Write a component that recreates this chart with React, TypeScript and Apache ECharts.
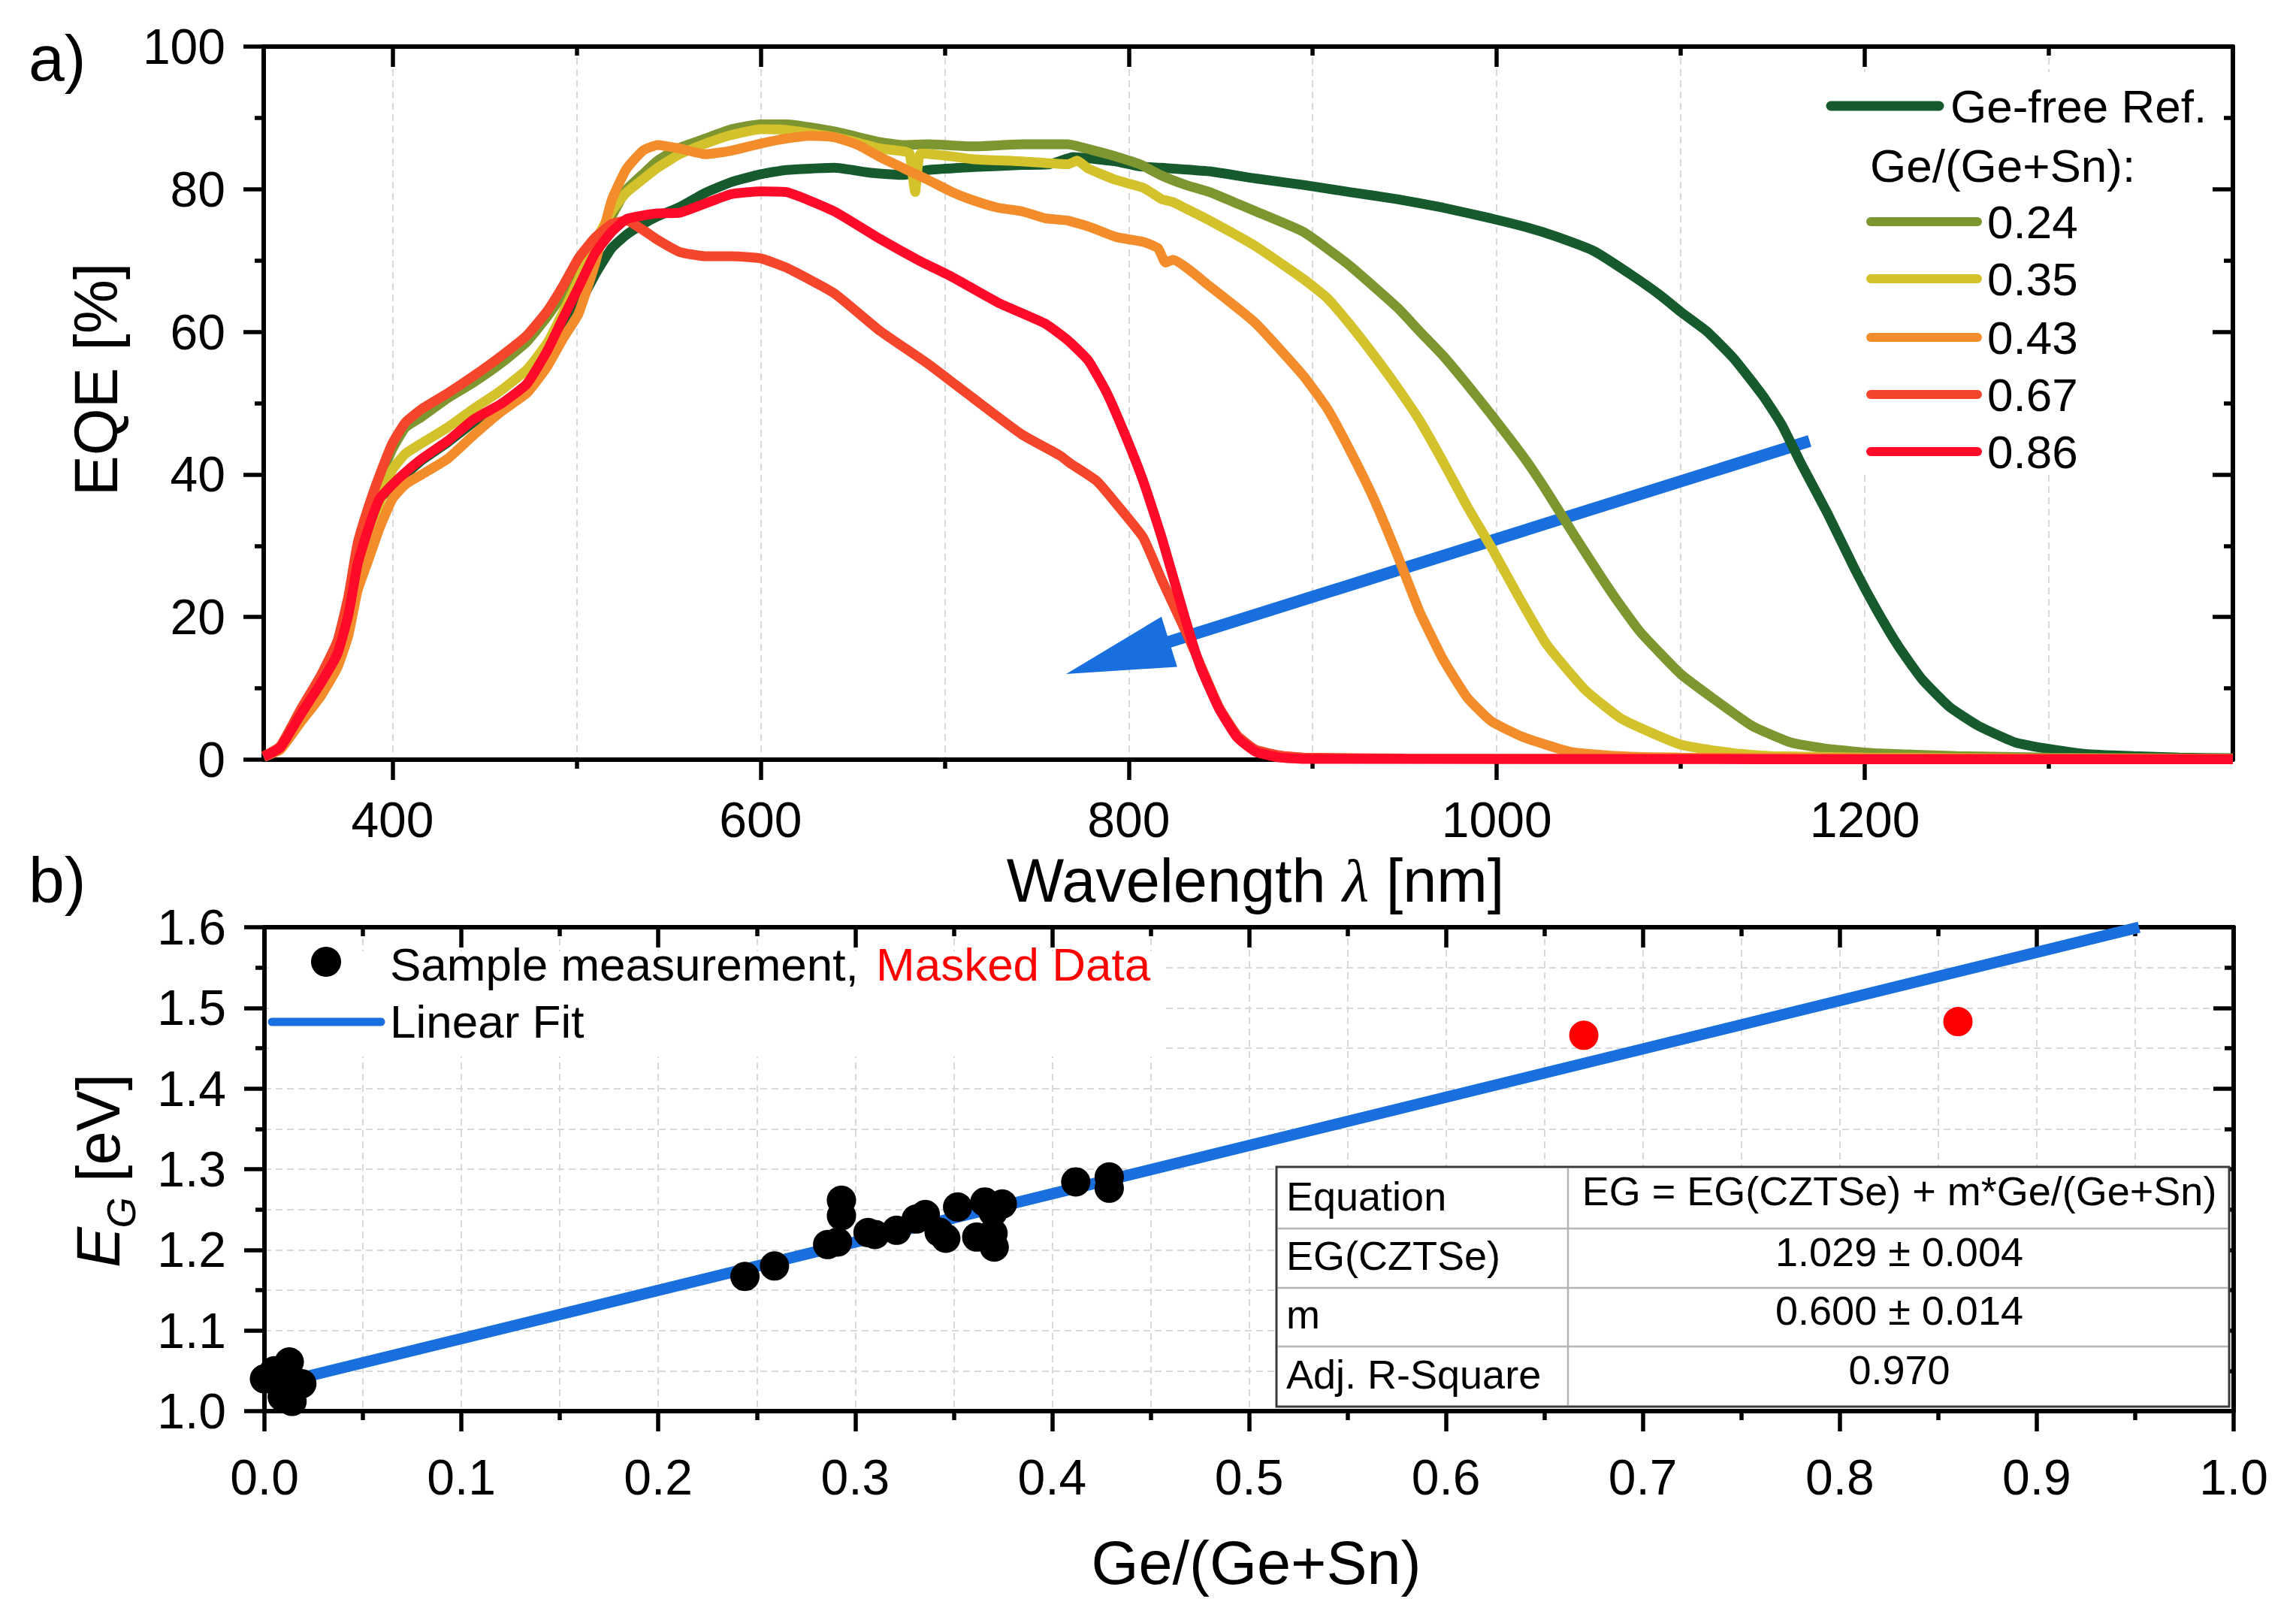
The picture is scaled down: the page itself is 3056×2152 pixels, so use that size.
import React, { useEffect, useRef } from 'react';
import * as echarts from 'echarts';

const FONT = '"Liberation Sans", Arial, Helvetica, sans-serif';

// ---------- panel a) EQE spectra: [wavelength nm, EQE %] ----------
const eqeRef = [[330,0.4],[339,1.7],[350,6.2],[361,10.6],[370,14.7],[376,20.2],[381,27.2],[387,32.3],[393,36.4],[400,38.6],[407,40.0],[416,42.0],[430,44.5],[444,47.3],[459,49.7],[473,52.1],[484,56.2],[493,60.3],[501,63.6],[510,68.0],[519,71.7],[527,73.6],[536,75.1],[544,76.2],[556,77.5],[570,79.5],[584,81.0],[600,82.1],[614,82.7],[640,83.0],[660,82.3],[678,82.0],[691,82.7],[716,83.1],[742,83.4],[757,83.5],[770,84.5],[783,84.2],[793,83.9],[806,83.2],[818,83.0],[844,82.5],[869,81.5],[895,80.6],[920,79.6],[946,78.6],[971,77.4],[997,75.9],[1017,74.6],[1033,73.3],[1053,71.3],[1073,68.0],[1089,65.1],[1100,62.8],[1114,60.1],[1129,56.2],[1145,50.9],[1155,46.9],[1165,41.7],[1180,34.4],[1195,26.5],[1206,21.2],[1218,16.0],[1231,11.3],[1246,7.4],[1262,4.7],[1282,2.4],[1300,1.5],[1320,0.8],[1346,0.5],[1371,0.3],[1400,0.2]];

const eqe024 = [[330,0.4],[339,1.8],[350,6.8],[361,11.5],[370,16.2],[376,22.3],[381,29.5],[387,34.8],[393,39.3],[400,43.6],[407,46.6],[416,48.1],[430,50.7],[444,52.9],[459,55.6],[473,58.6],[484,62.1],[493,65.5],[501,69.2],[510,72.9],[519,76.2],[527,79.9],[536,82.1],[544,84.0],[556,85.8],[570,87.1],[584,88.4],[600,89.1],[614,89.1],[640,88.1],[665,86.6],[678,86.2],[691,86.3],[716,86.0],[742,86.3],[767,86.3],[780,85.5],[793,84.6],[806,83.5],[818,81.9],[831,80.6],[844,79.6],[857,78.2],[869,76.9],[895,74.0],[920,69.3],[946,63.4],[958,60.1],[971,56.6],[984,52.6],[997,48.4],[1015,42.3],[1027,37.7],[1043,31.1],[1063,23.2],[1078,17.9],[1100,12.0],[1117,8.7],[1139,4.7],[1160,2.4],[1180,1.5],[1206,0.9],[1250,0.5],[1300,0.3],[1400,0.1]];

const eqe035 = [[330,0.4],[339,1.6],[350,6.0],[361,10.5],[370,14.5],[376,20.0],[381,26.5],[387,31.5],[393,36.0],[400,40.7],[407,42.9],[416,44.4],[430,46.6],[444,49.2],[459,51.8],[473,54.7],[484,58.4],[493,62.9],[501,67.3],[510,72.5],[519,76.9],[527,79.5],[536,81.4],[544,83.0],[556,84.9],[570,86.4],[584,87.6],[600,88.4],[614,88.3],[640,87.3],[653,86.5],[665,85.7],[678,85.3],[681,85.0],[684,79.6],[687,85.0],[704,84.6],[716,84.2],[742,83.9],[767,83.5],[772,84.0],[778,82.9],[793,81.3],[808,80.2],[818,78.6],[824,78.2],[831,77.3],[844,75.6],[869,72.0],[895,67.4],[908,64.7],[920,61.1],[933,56.8],[946,52.2],[958,47.6],[971,41.7],[984,35.5],[997,29.8],[1012,22.8],[1027,16.2],[1048,9.8],[1068,5.7],[1100,2.1],[1129,0.9],[1150,0.5],[1200,0.3],[1300,0.15],[1400,0.1]];

const eqe043 = [[330,0.4],[339,1.4],[350,5.2],[361,8.9],[370,12.9],[376,17.4],[381,23.7],[387,28.1],[393,32.5],[400,36.6],[407,38.6],[416,40.0],[430,42.2],[444,45.5],[459,48.8],[473,51.4],[484,55.1],[493,59.2],[501,62.5],[510,69.5],[519,78.4],[527,82.8],[536,85.4],[544,86.2],[556,85.7],[570,84.9],[584,85.4],[600,86.4],[614,87.1],[627,87.5],[640,87.3],[653,86.2],[665,84.5],[678,82.9],[691,81.3],[704,79.6],[716,78.4],[729,77.4],[742,76.9],[755,75.9],[767,75.6],[780,74.6],[793,73.3],[808,72.6],[816,71.7],[820,69.7],[824,70.1],[844,66.4],[869,61.2],[895,53.8],[908,49.2],[920,43.5],[933,36.7],[946,28.7],[958,20.8],[971,14.0],[984,8.7],[997,5.4],[1014,3.2],[1040,1.1],[1066,0.5],[1100,0.3],[1200,0.2],[1400,0.1]];

const eqe067 = [[330,0.5],[339,1.9],[350,7.0],[361,11.8],[370,16.6],[376,22.9],[381,30.3],[387,35.5],[393,39.9],[400,44.4],[407,47.3],[416,49.2],[430,51.4],[444,53.8],[459,56.6],[473,59.5],[484,62.9],[493,66.6],[501,70.3],[510,73.2],[519,75.1],[527,75.6],[536,74.3],[544,72.9],[556,71.2],[570,70.6],[584,70.6],[600,70.3],[614,69.0],[640,65.4],[665,60.1],[691,55.5],[716,50.6],[742,45.6],[763,42.6],[768,41.6],[783,39.0],[798,34.4],[808,31.1],[818,25.2],[831,18.0],[839,13.3],[849,7.4],[859,3.4],[869,1.4],[882,0.6],[895,0.3],[950,0.15],[1400,0.1]];

const eqe086 = [[330,0.4],[339,1.7],[350,6.3],[361,10.7],[370,14.8],[376,20.3],[381,27.4],[387,32.5],[393,36.6],[400,38.6],[407,40.3],[416,42.2],[430,44.7],[444,47.7],[459,49.9],[473,52.7],[484,57.3],[493,62.1],[501,66.2],[510,71.0],[519,74.0],[527,75.8],[536,76.3],[544,76.6],[556,76.7],[570,78.0],[584,79.3],[600,79.7],[614,79.6],[640,76.9],[665,73.0],[686,70.0],[704,67.7],[729,64.1],[755,61.1],[767,58.8],[778,56.0],[788,51.5],[798,45.6],[808,39.0],[818,31.1],[831,19.5],[839,13.0],[849,7.2],[859,3.1],[869,1.1],[882,0.3],[895,0.1],[1400,0.05]];

const eqeSeries = [eqeRef, eqe024, eqe035, eqe043, eqe067, eqe086];
const eqeNames = ['Ge-free Ref.', '0.24', '0.35', '0.43', '0.67', '0.86'];
const eqeColors = ['#175a2d', '#7d962f', '#d3c22b', '#f38d2b', '#f5452a', '#ff0a28'];

const wlMajorTicks = [400, 600, 800, 1000, 1200];
const wlMinorTicks = [500, 700, 900, 1100, 1300];

// arrow annotation in data coordinates (wavelength, EQE)
const arrowTail = [1170, 44.7];
const arrowTip = [766, 12.0];

// ---------- panel b) band gap vs Ge content ----------
const sampleGe = [0.000, 0.005, 0.008, 0.0126, 0.019, 0.009, 0.014, 0.010, 0.244, 0.259, 0.286, 0.291, 0.293, 0.293, 0.3065, 0.310, 0.321, 0.331, 0.3356, 0.3426, 0.346, 0.352, 0.3658, 0.3747, 0.370, 0.3617, 0.370, 0.3706, 0.412, 0.429, 0.429];
const sampleEG = [1.040, 1.050, 1.047, 1.061, 1.034, 1.018, 1.012, 1.037, 1.167, 1.180, 1.2065, 1.2096, 1.2615, 1.2422, 1.2214, 1.219, 1.2242, 1.2382, 1.2438, 1.222, 1.2143, 1.2531, 1.2593, 1.2568, 1.2469, 1.2158, 1.2205, 1.2034, 1.2842, 1.2904, 1.2764];
const maskedGe = [0.67, 0.86];
const maskedEG = [1.466, 1.483];
const fitGe = [0.0, 0.952];
const fitEG = [1.03, 1.60];

const tableLabels = ['Equation', 'EG(CZTSe)', 'm', 'Adj. R-Square'];
const tableValues = ['EG = EG(CZTSe) + m*Ge/(Ge+Sn)', '1.029 ± 0.004', '0.600 ± 0.014', '0.970'];

const BLUE = '#1a6fde';

const axisLine = { show: true, onZero: false, lineStyle: { color: '#000', width: 6 } };
const tickStyle = { color: '#000', width: 5.5 };
const gridStyle = { color: '#d9d9d9', width: 2, type: [9, 6] };
const labelStyle = { color: '#000', fontSize: 66, fontFamily: FONT };

function wlAxis(position: string, ticks: number[], len: number, inside: boolean, showLine: boolean, showLabel: boolean, split: boolean) {
  return {
    gridIndex: 0, type: 'value', min: 330, max: 1400, position,
    axisLine: showLine ? axisLine : { show: false, onZero: false },
    axisTick: { show: true, inside, length: len, customValues: ticks, lineStyle: tickStyle },
    axisLabel: showLabel ? { show: true, customValues: ticks, margin: 47, formatter: (v: number) => String(Math.round(v)), ...labelStyle } : { show: false },
    minorTick: { show: false },
    splitLine: { show: split, lineStyle: gridStyle },
  };
}

function geAxis(position: string, inside: boolean, showLabel: boolean) {
  return {
    gridIndex: 1, type: 'value', min: 0, max: 1, interval: 0.1, position,
    axisLine,
    axisTick: { show: true, inside, length: 27, lineStyle: tickStyle },
    minorTick: { show: true, splitNumber: 2, length: 12, lineStyle: tickStyle },
    axisLabel: showLabel ? { show: true, margin: 55, formatter: (v: number) => v.toFixed(1), showMinLabel: true, showMaxLabel: true, ...labelStyle } : { show: false },
    splitLine: { show: showLabel, lineStyle: gridStyle },
    minorSplitLine: { show: showLabel, lineStyle: gridStyle },
  };
}

function eqeYAxis(position: string, inside: boolean, showLabel: boolean) {
  return {
    gridIndex: 0, type: 'value', min: 0, max: 100, interval: 20, position,
    axisLine,
    axisTick: { show: true, inside, length: 27, lineStyle: tickStyle },
    minorTick: { show: true, splitNumber: 2, length: 12, lineStyle: tickStyle },
    axisLabel: showLabel ? { show: true, margin: 51, showMinLabel: true, showMaxLabel: true, ...labelStyle } : { show: false },
    splitLine: { show: false },
  };
}

function egYAxis(position: string, inside: boolean, showLabel: boolean) {
  return {
    gridIndex: 1, type: 'value', min: 1.0, max: 1.6, interval: 0.1, position,
    axisLine,
    axisTick: { show: true, inside, length: 27, lineStyle: tickStyle },
    minorTick: { show: true, splitNumber: 2, length: 12, lineStyle: tickStyle },
    axisLabel: showLabel ? { show: true, margin: 51, formatter: (v: number) => v.toFixed(1), showMinLabel: true, showMaxLabel: true, ...labelStyle } : { show: false },
    splitLine: { show: showLabel, lineStyle: gridStyle },
    minorSplitLine: { show: showLabel, lineStyle: gridStyle },
  };
}

function text(t: string, x: number, y: number, size: number, extra: any = {}) {
  return {
    type: 'text', x, y, z: 20, silent: true, rotation: extra.rotation || 0,
    style: {
      text: t, fill: extra.fill || '#000', fontSize: size, fontFamily: extra.fontFamily || FONT,
      fontStyle: extra.italic ? 'italic' : 'normal',
      align: extra.align || 'left', verticalAlign: 'middle', rich: extra.rich,
    },
  };
}

function hline(x1: number, x2: number, y: number, color: string, w: number, cap = 'round', z = 20) {
  return { type: 'line', z, silent: true, shape: { x1, y1: y, x2, y2: y }, style: { stroke: color, lineWidth: w, lineCap: cap } };
}

function buildGraphics(chart: any) {
  const g: any[] = [];
  // arrow
  const tail = chart.convertToPixel({ xAxisIndex: 0, yAxisIndex: 0 }, arrowTail);
  const tip = chart.convertToPixel({ xAxisIndex: 0, yAxisIndex: 0 }, arrowTip);
  const dx = tip[0] - tail[0], dy = tip[1] - tail[1];
  const len = Math.hypot(dx, dy);
  const ux = dx / len, uy = dy / len, nx = -uy, ny = ux;
  const L = 144, HW = 35;
  const bx = tip[0] - ux * L, by = tip[1] - uy * L;
  g.push({ type: 'line', z: 1, silent: true, shape: { x1: tail[0], y1: tail[1], x2: bx + ux * 20, y2: by + uy * 20 }, style: { stroke: BLUE, lineWidth: 16, lineCap: 'butt' } });
  g.push({ type: 'polygon', z: 1, silent: true, shape: { points: [[tip[0], tip[1]], [bx + nx * HW, by + ny * HW], [bx - nx * HW, by - ny * HW]] }, style: { fill: BLUE } });

  // panel labels
  g.push(text('a)', 38, 77, 86));
  g.push(text('b)', 38, 1171, 86));

  // axis titles
  g.push(text('EQE [%]', 128, 505, 81, { rotation: Math.PI / 2, align: 'center' }));
  g.push({
    type: 'text', x: 1671, y: 1172, z: 20, silent: true,
    style: {
      text: '{a|Wavelength }{l|λ}{a| [nm]}', align: 'center', verticalAlign: 'middle',
      rich: {
        a: { fill: '#000', fontSize: 81, fontFamily: FONT },
        l: { fill: '#000', fontSize: 81, fontFamily: '"Liberation Serif", "DejaVu Serif", serif', fontStyle: 'italic' },
      },
    },
  });
  g.push(text('Ge/(Ge+Sn)', 1672, 2080, 81, { align: 'center' }));
  g.push(text('E', 131, 1660, 81, { rotation: Math.PI / 2, align: 'center', italic: true }));
  g.push(text('G', 161, 1614, 53, { rotation: Math.PI / 2, align: 'center', italic: true }));
  g.push(text('[eV]', 131, 1501, 81, { rotation: Math.PI / 2, align: 'center' }));

  // legend a)
  g.push({ type: 'rect', z: 1, silent: true, shape: { x: 2428, y: 96, width: 512, height: 532 }, style: { fill: '#fff' } });
  g.push(hline(2437, 2581, 141, eqeColors[0], 13));
  g.push(text(eqeNames[0], 2596, 141, 62));
  g.push(text('Ge/(Ge+Sn):', 2489, 220, 62));
  const rowsY = [295, 371, 449, 525, 601];
  for (let i = 1; i < 6; i++) {
    g.push(hline(2490, 2632, rowsY[i - 1], eqeColors[i], 12));
    g.push(text(eqeNames[i], 2645, rowsY[i - 1], 62));
  }

  // legend b)
  g.push({ type: 'rect', z: 1, silent: true, shape: { x: 358, y: 1266, width: 1192, height: 140 }, style: { fill: '#fff' } });
  g.push({ type: 'circle', z: 20, silent: true, shape: { cx: 434, cy: 1280, r: 20 }, style: { fill: '#000' } });
  g.push(text('Sample measurement,', 519, 1283, 62));
  g.push(text('Masked Data', 1166, 1283, 62, { fill: '#ff0000' }));
  g.push(hline(362, 507, 1360, BLUE, 11));
  g.push(text('Linear Fit', 519, 1359, 62));

  // fit table
  const tx = 1699, ty = 1553, tw = 1268, th = 319, colX = 2087;
  const rowLines = [1635, 1714, 1792];
  g.push({ type: 'rect', z: 15, silent: true, shape: { x: tx, y: ty, width: tw, height: th }, style: { fill: '#fff', stroke: '#3a3a3a', lineWidth: 3 } });
  g.push({ type: 'line', z: 16, silent: true, shape: { x1: colX, y1: ty + 2, x2: colX, y2: ty + th - 2 }, style: { stroke: '#b5b5b5', lineWidth: 2.5 } });
  rowLines.forEach((ry) => {
    g.push({ type: 'line', z: 16, silent: true, shape: { x1: tx + 2, y1: ry, x2: tx + tw - 2, y2: ry }, style: { stroke: '#b5b5b5', lineWidth: 2.5 } });
  });
  const labY = [1592, 1671, 1749, 1829];
  const valY = [1585, 1666, 1744, 1823];
  tableLabels.forEach((t, i) => g.push(text(t, 1712, labY[i], 54)));
  tableValues.forEach((t, i) => g.push(text(t, 2528, valY[i], 54, { align: 'center' })));
  return g;
}

export default function App() {
  const ref = useRef<HTMLDivElement>(null);
  useEffect(() => {
    document.body.style.margin = '0';
    document.body.style.overflow = 'hidden';
    const chart = echarts.init(ref.current!, null, { renderer: 'svg' });
    const series: any[] = eqeSeries.map((d, i) => ({
      name: eqeNames[i], type: 'line', xAxisIndex: 0, yAxisIndex: 0, data: d,
      showSymbol: false, symbol: 'none', smooth: 0.15, z: 3 + i,
      lineStyle: { width: 13, color: eqeColors[i] }, itemStyle: { color: eqeColors[i] },
      emphasis: { disabled: true },
    }));
    series.push({
      name: 'Linear Fit', type: 'line', xAxisIndex: 4, yAxisIndex: 2,
      data: fitGe.map((x, i) => [x, fitEG[i]]), showSymbol: false, symbol: 'none', z: 3,
      lineStyle: { width: 15, color: BLUE }, itemStyle: { color: BLUE },
      emphasis: { disabled: true },
    });
    series.push({
      name: 'Sample measurement', type: 'scatter', xAxisIndex: 4, yAxisIndex: 2,
      data: sampleGe.map((x, i) => [x, sampleEG[i]]), symbol: 'circle', symbolSize: 39, z: 4,
      itemStyle: { color: '#000', opacity: 1 },
    });
    series.push({
      name: 'Masked Data', type: 'scatter', xAxisIndex: 4, yAxisIndex: 2,
      data: maskedGe.map((x, i) => [x, maskedEG[i]]), symbol: 'circle', symbolSize: 39, z: 4,
      itemStyle: { color: '#ff0000', opacity: 1 },
    });
    chart.setOption({
      animation: false,
      backgroundColor: '#fff',
      grid: [
        { left: 351, top: 62, width: 2621, height: 949, containLabel: false, outerBoundsMode: 'none' },
        { left: 352, top: 1234, width: 2621, height: 644, containLabel: false, outerBoundsMode: 'none' },
      ],
      xAxis: [
        wlAxis('bottom', wlMajorTicks, 27, false, true, true, true),
        wlAxis('bottom', wlMinorTicks, 12, false, false, false, true),
        wlAxis('top', wlMajorTicks, 27, true, true, false, false),
        wlAxis('top', wlMinorTicks, 12, true, false, false, false),
        geAxis('bottom', false, true),
        geAxis('top', true, false),
      ],
      yAxis: [
        eqeYAxis('left', false, true),
        eqeYAxis('right', true, false),
        egYAxis('left', false, true),
        egYAxis('right', true, false),
      ],
      series,
    });
    chart.setOption({ graphic: buildGraphics(chart) });
    return () => chart.dispose();
  }, []);
  return <div ref={ref} style={{ position: 'absolute', left: 0, top: 0, width: 3056, height: 2152, background: '#fff' }} />;
}
